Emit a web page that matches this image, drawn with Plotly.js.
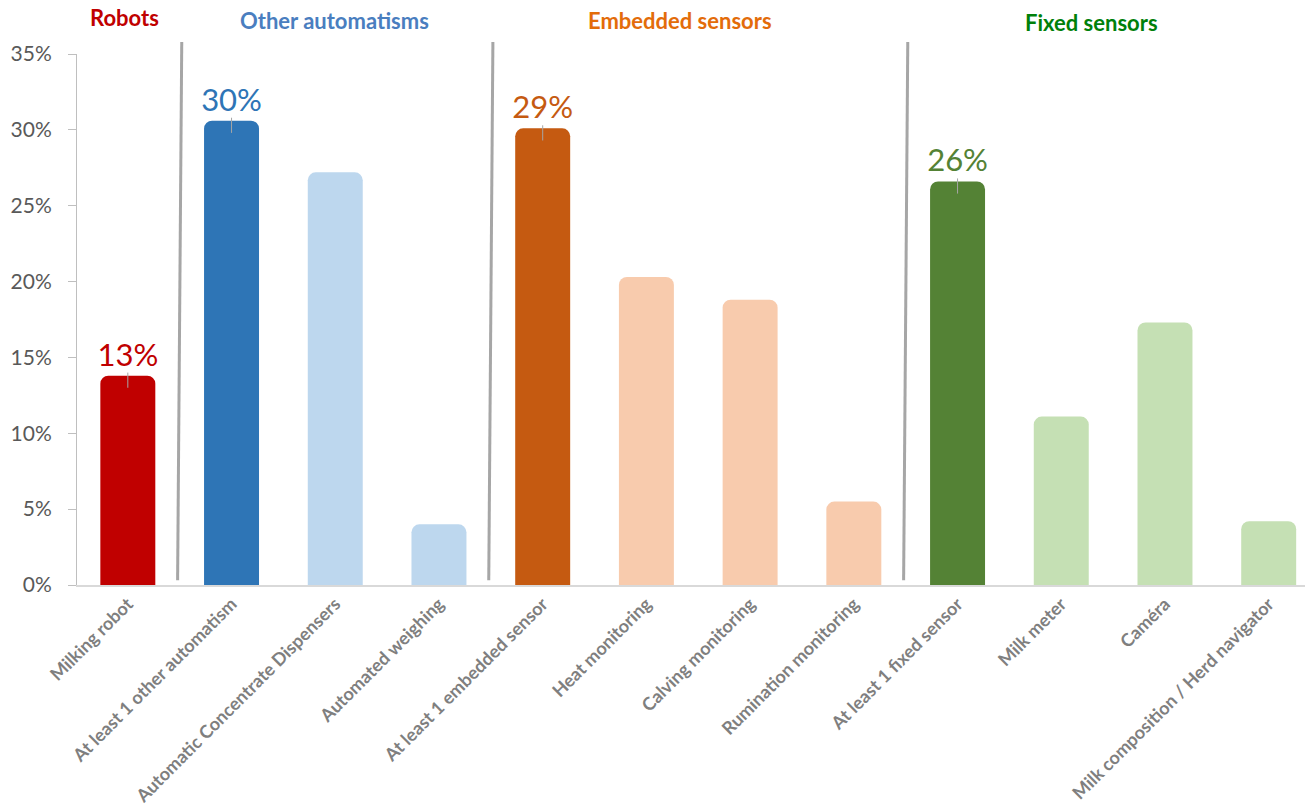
<!DOCTYPE html>
<html>
<head>
<meta charset="utf-8">
<script src="https://cdn.plot.ly/plotly-3.0.1.min.js"></script>
<style>html,body{margin:0;padding:0;background:#fff;overflow:hidden}#chart{width:1305px;height:812px}</style>
</head>
<body>
<div id="chart"></div>
<script>
// ---- data ----
const categories = [
  "Milking robot",
  "At least 1 other automatism",
  "Automatic Concentrate Dispensers",
  "Automated weighing",
  "At least 1 embedded sensor",
  "Heat monitoring",
  "Calving monitoring",
  "Rumination monitoring",
  "At least 1 fixed sensor",
  "Milk meter",
  "Caméra",
  "Milk composition / Herd navigator"
];
const values = [13.8, 30.6, 27.2, 4.0, 30.1, 20.3, 18.8, 5.5, 26.6, 11.1, 17.3, 4.2];
const valueLabels = ["13%", "30%", "", "", "29%", "", "", "", "26%", "", "", ""];
const barColors = ["#c00000", "#2e75b6", "#bdd7ee", "#bdd7ee", "#c55a11", "#f8cbad", "#f8cbad", "#f8cbad", "#548235", "#c5e0b4", "#c5e0b4", "#c5e0b4"];
const labelColors = ["#c00000", "#2e75b6", "#2e75b6", "#2e75b6", "#c55a11", "#c55a11", "#c55a11", "#c55a11", "#548235", "#548235", "#548235", "#548235"];
const errPlus = [0.2, 0.2, 0, 0, 0.2, 0, 0, 0, 0.2, 0, 0, 0];
const errMinus = [0.8, 0.8, 0, 0, 0.8, 0, 0, 0, 0.8, 0, 0, 0];
const yTickVals = [0, 5, 10, 15, 20, 25, 30, 35];
const yTickText = ["0%", "5%", "10%", "15%", "20%", "25%", "30%", "35%"];
const groupNames = ["Robots", "Other automatisms", "Embedded sensors", "Fixed sensors"];
const groupColors = ["#c00000", "#4a7ebf", "#e36c0a", "#00800a"];
const groupCenters = [-0.03, 1.99, 5.32, 9.29];
const groupDividers = [0.5, 3.5, 7.5];

const FONT = "Lato, 'Open Sans', sans-serif";
const idx = categories.map((c, i) => i);

const trace = {
  type: "bar",
  x: idx,
  y: values,
  width: 0.53,
  marker: { color: barColors, cornerradius: 8, line: { width: 0 } },
  text: valueLabels,
  textposition: "outside",
  constraintext: "none",
  cliponaxis: false,
  textfont: { family: FONT, size: 31, color: labelColors },
  error_y: { type: "data", symmetric: false, array: errPlus, arrayminus: errMinus, color: "#a6a6a6", thickness: 1, width: 0 },
  hoverinfo: "none"
};

const shapes = groupDividers.map(d => ({
  type: "line", xref: "x", yref: "paper", layer: "above",
  x0: d - 0.02, x1: d + 0.02, y0: 0.009, y1: 1.0226,
  line: { color: "#a6a6a6", width: 3 }
}));

const headerY = [1.068, 1.064, 1.064, 1.06];
const annotations = groupNames.map((g, i) => ({
  xref: "x", yref: "paper", x: groupCenters[i], y: headerY[i], yanchor: "middle",
  text: "<b>" + g + "</b>", showarrow: false,
  font: { family: FONT, size: 22, color: groupColors[i] }
}));

const layout = {
  width: 1305, height: 812,
  margin: { l: 77, r: 0, t: 54, b: 227 },
  paper_bgcolor: "#fff", plot_bgcolor: "#fff",
  showlegend: false,
  xaxis: {
    range: [-0.49, 11.35],
    tickmode: "array", tickvals: idx, ticktext: categories,
    tickangle: -45,
    tickfont: { family: FONT, size: 18, color: "#7f7f7f", weight: "bold" },
    showline: true, linecolor: "#d9d9d9", linewidth: 1.5,
    ticks: "", showgrid: false, zeroline: false,
    ticklabelstandoff: 0
  },
  yaxis: {
    range: [0, 35], tickmode: "array", tickvals: yTickVals, ticktext: yTickText,
    tickfont: { family: FONT, size: 21, color: "#595959" },
    showline: true, linecolor: "#bfbfbf", linewidth: 1,
    ticks: "outside", ticklen: 8, tickcolor: "#bfbfbf",
    showgrid: false, zeroline: false,
    ticklabelstandoff: 12
  },
  shapes: shapes,
  annotations: annotations
};

Plotly.newPlot("chart", [trace], layout, { displayModeBar: false, staticPlot: true });
</script>
</body>
</html>
